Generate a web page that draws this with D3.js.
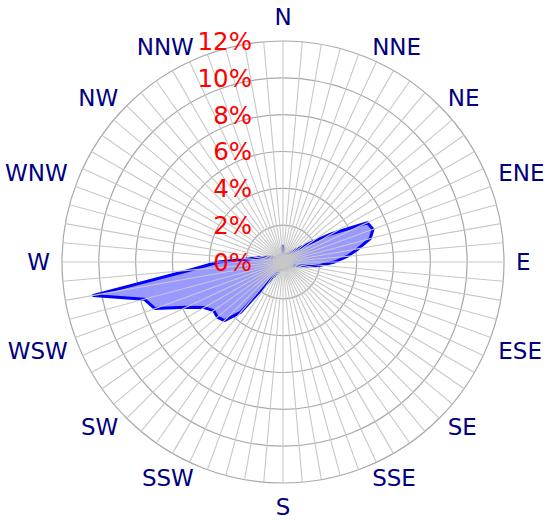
<!DOCTYPE html>
<html lang="en">
<head>
    <meta charset="UTF-8">
    <title>Wind rose</title>
    <script src="https://d3js.org/d3.v7.min.js"></script>
    <style>
        body { margin: 0; background: #fff; }
        text { font-family: "DejaVu Sans", Verdana, sans-serif; }
    </style>
</head>
<body>
    <script>
    // compass labels
    var compass = ["N", "NNE", "NE", "ENE", "E", "ESE", "SE", "SSE",
                   "S", "SSW", "SW", "WSW", "W", "WNW", "NW", "NNW"];

    // 5 degree sectors, frequency in %
    var bearings = d3.range(0, 360, 5);
    var freq = [
        0.85, 0.45, 0.40, 0.40, 0.45, 0.50, 0.55, 0.60, 0.70, 0.90, 1.20, 1.80,   // 0 - 55
        3.10, 5.05, 5.20, 4.90, 4.15, 3.50, 2.80, 2.05, 1.25, 0.80, 0.60, 0.50,   // 60 - 115
        0.45, 0.40, 0.40, 0.40, 0.40, 0.40, 0.40, 0.40, 0.40, 0.40, 0.40, 0.40,   // 120 - 175
        0.40, 0.40, 0.40, 0.40, 0.50, 0.60, 0.80, 1.10, 3.55, 4.50, 4.65, 4.60,   // 180 - 235
        4.95, 5.80, 7.40, 7.80, 10.45, 5.10, 3.50, 1.90, 1.35, 1.00, 0.80, 0.60,  // 240 - 295
        0.50, 0.45, 0.40, 0.40, 0.40, 0.40, 0.40, 0.40, 0.40, 0.40, 0.40, 0.45    // 300 - 355
    ];
    var ticks = [0, 2, 4, 6, 8, 10, 12];

    var width = 550, height = 520;
    var cx = 283, cy = 262;
    var rad = Math.PI / 180;

    var svg = d3.select("body").append("svg")
        .attr("width", width).attr("height", height);
    var g = svg.append("g").attr("transform", "translate(" + cx + "," + cy + ")");

    var r = d3.scaleLinear().domain([0, 12]).range([0, 221]);

    // rings
    g.selectAll(".ring")
        .data(ticks.slice(1))
        .enter().append("circle")
        .attr("class", "ring")
        .attr("r", function(d) { return r(d); })
        .attr("fill", "none")
        .attr("stroke", "#a8a8a8")
        .attr("stroke-width", 1.2);

    // data polygon
    var line = d3.lineRadial()
        .angle(function(d, i) { return bearings[i] * rad; })
        .radius(function(d) { return r(d); })
        .curve(d3.curveLinearClosed);

    g.append("path")
        .datum(freq)
        .attr("d", line)
        .attr("fill", "#9999ff")
        .attr("stroke", "#0000ff")
        .attr("stroke-width", 3)
        .attr("stroke-linejoin", "round");

    // spokes on top
    g.selectAll(".spoke")
        .data(bearings)
        .enter().append("line")
        .attr("class", "spoke")
        .attr("x1", 0).attr("y1", 0)
        .attr("x2", function(d) { return r(12) * Math.sin(d * rad); })
        .attr("y2", function(d) { return -r(12) * Math.cos(d * rad); })
        .attr("stroke", "#c8c8c8")
        .attr("stroke-width", 1.1);

    // compass labels
    g.selectAll(".dir")
        .data(compass)
        .enter().append("text")
        .attr("class", "dir")
        .each(function(d, i) {
            var a = i * 22.5 * rad;
            var s = Math.sin(a), c = Math.cos(a);
            var R = 233;
            if (Math.abs(s) < 0.1) R = 245;
            d3.select(this)
                .attr("x", R * s)
                .attr("y", -R * c)
                .attr("dy", "0.36em")
                .attr("text-anchor", s > 0.1 ? "start" : (s < -0.1 ? "end" : "middle"));
        })
        .attr("font-size", "23px")
        .attr("fill", "#000080")
        .text(function(d) { return d; });

    // radial tick labels
    g.selectAll(".tick")
        .data(ticks)
        .enter().append("text")
        .attr("class", "tick")
        .attr("x", -31)
        .attr("y", function(d) { return -r(d); })
        .attr("dy", "0.36em")
        .attr("text-anchor", "end")
        .attr("font-size", "24.5px")
        .attr("fill", "#ff0000")
        .text(function(d) { return d + "%"; });
    </script>
</body>
</html>
